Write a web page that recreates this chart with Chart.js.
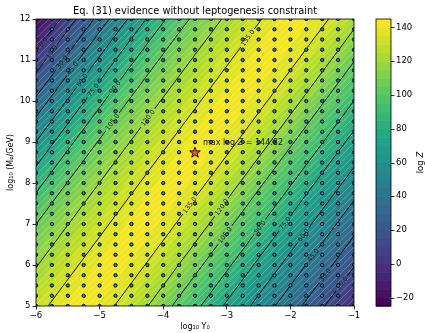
<!DOCTYPE html>
<html>
<head>
<meta charset="utf-8">
<script src="https://cdn.jsdelivr.net/npm/chart.js@4.4.1/dist/chart.umd.min.js"></script>
<style>
  html, body { margin: 0; padding: 0; background: #fff; }
</style>
</head>
<body>
<canvas id="myChart" width="425" height="333"></canvas>
<script>
// axes
const xTicks = [-6, -5, -4, -3, -2, -1]
const yTicks = [5, 6, 7, 8, 9, 10, 11, 12]
const cbTicks = [-20, 0, 20, 40, 60, 80, 100, 120, 140]
const cbMin = -25
const cbMax = 145

// sampled points (log10 Y0, log10 M)
const gridX = [-6, -5.75, -5.5, -5.25, -5, -4.75, -4.5, -4.25, -4, -3.75, -3.5, -3.25, -3, -2.75, -2.5, -2.25, -2, -1.75, -1.5, -1.25, -1]
const gridY = [5, 5.25, 5.5, 5.75, 6, 6.25, 6.5, 6.75, 7, 7.25, 7.5, 7.75, 8, 8.25, 8.5, 8.75, 9, 9.25, 9.5, 9.75, 10, 10.25, 10.5, 10.75, 11, 11.25, 11.5, 11.75, 12]

// best point
const bestX = -3.5
const bestY = 8.75
const maxLogZ = 144.82

// contour lines: x where each line crosses log10 M = 5 and log10 M = 12
const upperLevels = [0, 15, 30, 45, 60, 75, 90, 105, 120, 135]
const upperBottomX = [-8.99, -8.73, -8.45, -8.22, -7.93, -7.64, -7.33, -6.96, -6.45, -5.81]
const upperTopX = [-5.62, -5.37, -5.09, -4.85, -4.56, -4.27, -3.96, -3.59, -3.08, -2.45]
const upperLabelY = [11.44, 11.20, 10.95, 10.80, 10.51, 10.27, 10.34, 9.49, 9.59, 11.54]

const ridgeBottomX = -5.30
const ridgeTopX = -1.94

const lowerLevels = [135, 120, 105, 90, 75, 60, 45, 30, 15]
const lowerBottomX = [-4.77, -4.24, -3.86, -3.41, -3.06, -2.63, -2.24, -1.82, -1.46]
const lowerTopX = [-1.40, -0.88, -0.50, -0.04, 0.31, 0.74, 1.13, 1.54, 1.91]
const lowerLabelY = [7.46, 7.41, 6.73, 6.93, 7.02, 6.73, 6.24, 5.76, 5.56]

const FONT = 'DejaVu Sans'
const bandStep = 5

// viridis
const viridisStops = ['#440154', '#482475', '#414487', '#355f8d', '#2a788e', '#21918c', '#22a884', '#44bf70', '#7ad151', '#bddf26', '#fde725']
  .map(h => [parseInt(h.slice(1, 3), 16), parseInt(h.slice(3, 5), 16), parseInt(h.slice(5, 7), 16)])

function viridis(t) {
  t = Math.max(0, Math.min(1, t)) * (viridisStops.length - 1)
  const i = Math.min(viridisStops.length - 2, Math.floor(t))
  const f = t - i
  const a = viridisStops[i], b = viridisStops[i + 1]
  return [0, 1, 2].map(k => Math.round(a[k] + (b[k] - a[k]) * f))
}

const nBands = Math.round((cbMax - cbMin) / bandStep)
const bandColors = []
for (let k = 0; k < nBands; k++) bandColors.push(viridis((k + 0.5) / nBands))

// all contour lines in left-to-right order
const contours = []
upperLevels.forEach((lv, i) => contours.push({ level: lv, x5: upperBottomX[i], x12: upperTopX[i], labelY: upperLabelY[i] }))
const ridge = { level: maxLogZ, x5: ridgeBottomX, x12: ridgeTopX }
lowerLevels.forEach((lv, i) => contours.push({ level: lv, x5: lowerBottomX[i], x12: lowerTopX[i], labelY: lowerLabelY[i] }))
const profile = contours.slice(0, upperLevels.length).concat([ridge], contours.slice(upperLevels.length))

function lineX(c, y) {
  return c.x5 + (c.x12 - c.x5) * (y - 5) / 7
}

function fmt(v) {
  return v < 0 ? '\u2212' + Math.abs(v) : String(v)
}

function starImage(r, fill) {
  const c = document.createElement('canvas')
  const s = Math.ceil(r * 2 + 4)
  c.width = c.height = s
  const g = c.getContext('2d')
  g.translate(s / 2, s / 2 + 0.5)
  g.beginPath()
  for (let k = 0; k < 10; k++) {
    const rr = k % 2 ? r * 0.4 : r
    const a = -Math.PI / 2 + k * Math.PI / 5
    g.lineTo(rr * Math.cos(a), rr * Math.sin(a))
  }
  g.closePath()
  g.fillStyle = fill
  g.fill()
  g.lineWidth = 0.9
  g.strokeStyle = '#000'
  g.stroke()
  return c
}

// filled contours + hatching
const fillPlugin = {
  id: 'fillPlugin',
  beforeDatasetsDraw(chart) {
    const { ctx, chartArea: a } = chart
    const xs = chart.scales.x, ys = chart.scales.y
    const left = Math.round(a.left), top = Math.round(a.top)
    const w = Math.round(a.right) - left, h = Math.round(a.bottom) - top
    const img = ctx.createImageData(w, h)
    const n = profile.length
    for (let j = 0; j < h; j++) {
      const my = ys.getValueForPixel(top + j + 0.5)
      const px = profile.map(c => lineX(c, my))
      const pv = profile.map(c => c.level)
      let k = 0
      for (let i = 0; i < w; i++) {
        const mx = xs.getValueForPixel(left + i + 0.5)
        while (k < n - 2 && mx > px[k + 1]) k++
        let v = pv[k] + (pv[k + 1] - pv[k]) * (mx - px[k]) / (px[k + 1] - px[k])
        v = Math.max(cbMin, Math.min(maxLogZ, v))
        const b = Math.max(0, Math.min(nBands - 1, Math.floor((v - cbMin) / bandStep)))
        const col = bandColors[b]
        const o = (j * w + i) * 4
        img.data[o] = col[0]; img.data[o + 1] = col[1]; img.data[o + 2] = col[2]; img.data[o + 3] = 255
      }
    }
    ctx.putImageData(img, left, top)

    ctx.save()
    ctx.beginPath()
    ctx.rect(a.left, a.top, a.right - a.left, a.bottom - a.top)
    ctx.clip()
    ctx.beginPath()
    for (let s = a.left - h; s < a.right + 2; s += 6.5) {
      ctx.moveTo(s, a.bottom)
      ctx.lineTo(s + h, a.top)
    }
    ctx.strokeStyle = 'rgba(255,255,255,0.35)'
    ctx.lineWidth = 0.7
    ctx.stroke()
    ctx.restore()
  }
}

// contour labels with gaps in the lines
function labelBoxes(chart) {
  const xs = chart.scales.x, ys = chart.scales.y
  return contours.map(c => {
    const x0 = xs.getPixelForValue(c.x5), y0 = ys.getPixelForValue(5)
    const x1 = xs.getPixelForValue(c.x12), y1 = ys.getPixelForValue(12)
    const ang = Math.atan2(y1 - y0, x1 - x0)
    const cx = xs.getPixelForValue(lineX(c, c.labelY)), cy = ys.getPixelForValue(c.labelY)
    return { c, ang, cx, cy, text: c.level.toFixed(1) }
  })
}

const labelPlugin = {
  id: 'labelPlugin',
  beforeDatasetDraw(chart, args) {
    const ds = chart.data.datasets[args.index]
    if (ds.level === undefined) return
    const { ctx, chartArea: a } = chart
    ctx.save()
    ctx.font = '6.5px ' + FONT
    ctx.beginPath()
    ctx.rect(a.left, a.top, a.right - a.left, a.bottom - a.top)
    labelBoxes(chart).forEach(b => {
      const hw = ctx.measureText(b.text).width / 2 + 2, hh = 3.5
      const cs = Math.cos(b.ang), sn = Math.sin(b.ang)
      const pts = [[-hw, -hh], [hw, -hh], [hw, hh], [-hw, hh]].map(p => [b.cx + p[0] * cs - p[1] * sn, b.cy + p[0] * sn + p[1] * cs])
      ctx.moveTo(pts[0][0], pts[0][1])
      pts.slice(1).forEach(p => ctx.lineTo(p[0], p[1]))
      ctx.closePath()
    })
    ctx.clip('evenodd')
  },
  afterDatasetDraw(chart, args) {
    const ds = chart.data.datasets[args.index]
    if (ds.level === undefined) return
    const { ctx } = chart
    ctx.restore()
    const b = labelBoxes(chart).find(l => l.c.level === ds.level && l.c.x5 === ds.data[0].x)
    ctx.save()
    ctx.translate(b.cx, b.cy)
    ctx.rotate(b.ang)
    ctx.font = '6.5px ' + FONT
    ctx.fillStyle = '#1a1a1a'
    ctx.textAlign = 'center'
    ctx.textBaseline = 'middle'
    ctx.fillText(b.text, 0, 0.5)
    ctx.restore()
  }
}

// frame, title, colorbar, annotation
const decorPlugin = {
  id: 'decorPlugin',
  afterDraw(chart) {
    const { ctx, chartArea: a } = chart
    const xs = chart.scales.x, ys = chart.scales.y, cb = chart.scales.cb

    ctx.save()
    ctx.font = '8px ' + FONT
    ctx.fillStyle = '#1a1a1a'
    ctx.textBaseline = 'middle'
    const sp = xs.getPixelForValue(bestX), sy = ys.getPixelForValue(bestY)
    ctx.textAlign = 'left'
    const t1 = 'max log '
    ctx.fillText(t1, sp + 8, sy - 9)
    let off = ctx.measureText(t1).width
    ctx.font = 'italic 8px ' + FONT
    ctx.fillText('Z', sp + 8 + off, sy - 9)
    off += ctx.measureText('Z').width
    ctx.font = '8px ' + FONT
    ctx.fillText(' = ' + maxLogZ.toFixed(2), sp + 8 + off, sy - 9)

    ctx.strokeStyle = '#000'
    ctx.lineWidth = 0.8
    ctx.strokeRect(a.left, a.top, a.right - a.left, a.bottom - a.top)

    ctx.font = '9.8px ' + FONT
    ctx.fillStyle = '#000'
    ctx.textAlign = 'center'
    ctx.textBaseline = 'middle'
    ctx.fillText('Eq. (31) evidence without leptogenesis constraint', (a.left + a.right) / 2, 11.5)

    // colorbar
    const cl = a.right + 22, cw = 15
    for (let k = 0; k < nBands; k++) {
      const y0 = cb.getPixelForValue(cbMin + k * bandStep)
      const y1 = cb.getPixelForValue(cbMin + (k + 1) * bandStep)
      const col = bandColors[k]
      ctx.fillStyle = 'rgb(' + col.join(',') + ')'
      ctx.fillRect(cl, y1, cw, y0 - y1 + 0.6)
    }
    ctx.strokeRect(cl, a.top, cw, a.bottom - a.top)
    ctx.beginPath()
    cbTicks.forEach(v => {
      const y = Math.round(cb.getPixelForValue(v)) + 0.5
      ctx.moveTo(cl + cw, y)
      ctx.lineTo(cl + cw + 3.5, y)
    })
    ctx.stroke()

    ctx.translate(421, (a.top + a.bottom) / 2)
    ctx.rotate(-Math.PI / 2)
    ctx.font = '8.5px ' + FONT
    ctx.fillStyle = '#000'
    const w1 = ctx.measureText('log ').width
    ctx.font = 'italic 8.5px ' + FONT
    const w2 = ctx.measureText('Z').width
    ctx.textAlign = 'left'
    ctx.font = '8.5px ' + FONT
    ctx.fillText('log ', -(w1 + w2) / 2, 0)
    ctx.font = 'italic 8.5px ' + FONT
    ctx.fillText('Z', -(w1 + w2) / 2 + w1, 0)
    ctx.restore()
  }
}

const points = []
gridY.forEach(y => gridX.forEach(x => points.push({ x, y })))

const datasets = [
  {
    label: 'best',
    data: [{ x: bestX, y: bestY }],
    pointStyle: starImage(5.6, '#f05a1e'),
    pointRadius: 6,
    clip: 0,
    yAxisID: 'y'
  },
  {
    label: 'samples',
    data: points,
    pointRadius: 1.7,
    borderWidth: 0.9,
    borderColor: '#050505',
    backgroundColor: '#1f77b4',
    clip: 0,
    yAxisID: 'y'
  }
]
contours.forEach(c => {
  datasets.push({
    label: 'contour ' + c.level,
    level: c.level,
    data: [{ x: c.x5, y: 5 }, { x: c.x12, y: 12 }],
    showLine: true,
    borderColor: '#000',
    borderWidth: 0.9,
    pointRadius: 0,
    clip: 0,
    yAxisID: 'y'
  })
})

const tickFont = { family: FONT, size: 8.5 }

function noPad(axis) {
  axis.paddingTop = 0
  axis.paddingBottom = 0
}

const config = {
  type: 'scatter',
  data: { datasets: datasets },
  options: {
    responsive: false,
    animation: false,
    devicePixelRatio: 1,
    layout: { padding: { top: 19, left: 0, right: 0, bottom: 0 } },
    plugins: {
      legend: { display: false },
      tooltip: { enabled: false }
    },
    scales: {
      x: {
        type: 'linear',
        min: -6,
        max: -1,
        afterBuildTicks: axis => { axis.ticks = xTicks.map(v => ({ value: v })) },
        afterFit: axis => { axis.height = 27; axis.paddingLeft = 0; axis.paddingRight = 0 },
        ticks: { font: tickFont, color: '#000', padding: 1, autoSkip: false, maxRotation: 0, callback: v => fmt(v) },
        grid: { display: true, drawOnChartArea: false, drawTicks: true, tickLength: 3.5, color: '#000', lineWidth: 0.8 },
        border: { display: false },
        title: { display: true, text: 'log\u2081\u2080 Y\u2080', font: { family: FONT, size: 8 }, color: '#000', padding: { top: 0, bottom: 1 } }
      },
      y: {
        type: 'linear',
        position: 'left',
        min: 5,
        max: 12,
        afterBuildTicks: axis => { axis.ticks = yTicks.map(v => ({ value: v })) },
        afterFit: axis => { axis.width = 36; noPad(axis) },
        ticks: { font: tickFont, color: '#000', padding: 2, autoSkip: false, callback: v => fmt(v) },
        grid: { display: true, drawOnChartArea: false, drawTicks: true, tickLength: 3.5, color: '#000', lineWidth: 0.8 },
        border: { display: false },
        title: { display: true, text: 'log\u2081\u2080 (M\u1D69/GeV)', font: { family: FONT, size: 8 }, color: '#000', padding: { top: 6, bottom: 0 } }
      },
      cb: {
        type: 'linear',
        axis: 'y',
        position: 'right',
        min: cbMin,
        max: cbMax,
        afterBuildTicks: axis => { axis.ticks = cbTicks.map(v => ({ value: v })) },
        afterFit: axis => { axis.width = 71; noPad(axis) },
        ticks: { font: tickFont, color: '#000', padding: 2, autoSkip: false, callback: v => fmt(v) },
        grid: { display: false, drawTicks: true, tickLength: 40 },
        border: { display: false }
      }
    }
  },
  plugins: [fillPlugin, labelPlugin, decorPlugin]
}

const myChart = new Chart(document.getElementById('myChart'), config)
</script>
</body>
</html>
